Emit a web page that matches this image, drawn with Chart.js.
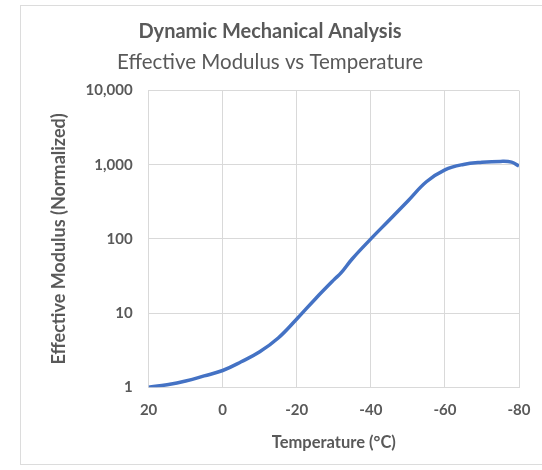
<!DOCTYPE html>
<html>
<head>
<meta charset="utf-8">
<script src="https://cdn.jsdelivr.net/npm/chart.js@4"></script>
<style>
    body { margin: 0; background: #fff; }
    #wrap { position: relative; width: 542px; height: 470px; overflow: hidden; }
    #frame { position: absolute; left: 20px; top: 5px; width: 540px; height: 458px; border: 1px solid #dcdcdc; }
    #chart { position: absolute; left: 0; top: 0; }
</style>
</head>
<body>
<div id="wrap">
    <div id="frame"></div>
    <canvas id="chart" width="542" height="470"></canvas>
</div>
<script>
// Temperature (°C) and normalized modulus
const temps = [20, 15, 10, 5, 0, -5, -10, -15, -20, -25, -30, -32, -35, -40, -45, -50, -55, -60, -65, -70, -75, -78, -80];
const modulus = [1.0, 1.08, 1.21, 1.42, 1.68, 2.2, 3.0, 4.6, 8.3, 15.5, 28, 35, 54, 100, 180, 325, 590, 855, 1010, 1080, 1110, 1085, 960];
const xTicks = [20, 0, -20, -40, -60, -80];
const yTicks = [1, 10, 100, 1000, 10000];

const textColor = "#595959";
const gridColor = "#d9d9d9";
Chart.defaults.font.family = "Lato, 'Open Sans', sans-serif";
Chart.defaults.color = textColor;

const points = temps.map((t, i) => ({ x: t, y: modulus[i] }));

new Chart(document.getElementById("chart"), {
    type: "line",
    data: {
        datasets: [{
            data: points,
            borderColor: "#4472C4",
            borderWidth: 3.5,
            pointRadius: 0,
            tension: 0.4,
            fill: false,
        }],
    },
    options: {
        responsive: false,
        animation: false,
        layout: { padding: { left: 21, right: 23, top: 20, bottom: 17 } },
        plugins: {
            legend: { display: false },
            tooltip: { enabled: false },
            title: {
                display: true,
                text: "Dynamic Mechanical Analysis",
                font: { size: 20, weight: "bold" },
                color: textColor,
                padding: { top: 0, bottom: 6 },
            },
            subtitle: {
                display: true,
                text: "Effective Modulus vs Temperature",
                font: { size: 20.5, weight: "normal" },
                color: textColor,
                padding: { top: 0, bottom: 16 },
            },
        },
        scales: {
            x: {
                type: "linear",
                reverse: true,
                min: -80,
                max: 20,
                afterBuildTicks: (axis) => { axis.ticks = xTicks.map(v => ({ value: v })); },
                afterFit: (axis) => { axis.paddingRight = 0; },
                ticks: { font: { size: 15, weight: "bold" }, color: textColor, padding: 14 },
                grid: { color: gridColor, drawTicks: false },
                border: { color: gridColor },
                title: {
                    display: true,
                    text: "Temperature (°C)",
                    font: { size: 16.5, weight: "bold" },
                    color: textColor,
                    padding: { top: 0, bottom: 0 },
                },
            },
            y: {
                type: "logarithmic",
                min: 1,
                max: 10000,
                afterBuildTicks: (axis) => { axis.ticks = yTicks.map(v => ({ value: v })); },
                ticks: {
                    font: { size: 15, weight: "bold" },
                    color: textColor,
                    padding: 16,
                    callback: (v) => Number(v).toLocaleString("en-US"),
                },
                grid: { color: gridColor, drawTicks: false },
                border: { color: gridColor },
                title: {
                    display: true,
                    text: "Effective Modulus (Normalized)",
                    font: { size: 18, weight: "bold" },
                    color: textColor,
                    padding: { top: 27, bottom: 0 },
                },
            },
        },
    },
});
</script>
</body>
</html>
